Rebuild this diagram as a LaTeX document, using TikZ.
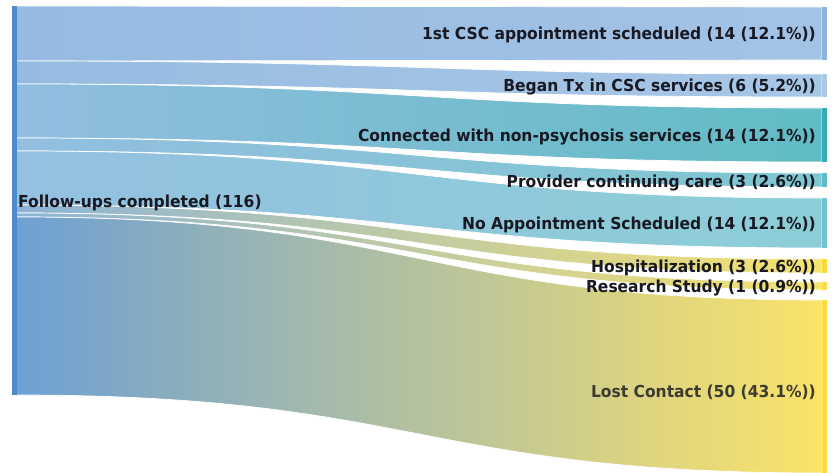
\documentclass[tikz,border=0pt]{standalone}
\usepackage{fontspec}
\newfontfamily\labfont{DejaVu Sans}[FakeStretch=0.94]
\definecolor{srcbar}{RGB}{79,139,203}
\definecolor{bAL}{RGB}{150,186,225}\definecolor{bAR}{RGB}{163,195,230}
\definecolor{bBL}{RGB}{150,187,225}\definecolor{bBR}{RGB}{168,199,231}
\definecolor{bCL}{RGB}{146,189,224}\definecolor{bCR}{RGB}{96,188,196}
\definecolor{bDL}{RGB}{147,190,224}\definecolor{bDR}{RGB}{125,199,208}
\definecolor{bEL}{RGB}{148,192,225}\definecolor{bER}{RGB}{140,206,215}
\definecolor{bFL}{RGB}{140,180,215}\definecolor{bFR}{RGB}{246,226,110}
\definecolor{bGL}{RGB}{140,180,215}\definecolor{bGR}{RGB}{246,226,110}
\definecolor{bHL}{RGB}{110,160,212}\definecolor{bHR}{RGB}{251,227,104}
\definecolor{tA}{RGB}{140,178,222}
\definecolor{tB}{RGB}{170,200,232}
\definecolor{tC}{RGB}{52,172,178}
\definecolor{tD}{RGB}{95,188,198}
\definecolor{tE}{RGB}{115,196,206}
\definecolor{tF}{RGB}{249,218,62}
\definecolor{tG}{RGB}{249,220,75}
\definecolor{tH}{RGB}{252,220,66}
\definecolor{labcol}{RGB}{25,25,35}
\definecolor{labgray}{RGB}{60,60,50}
% band: yl1 yl2 yr1 yr2 colL colR
\newcommand{\sankeyband}[6]{%
  \shade[left color=#5,right color=#6,draw=white,line width=0.7pt]
    (16,#1) .. controls (419,#1) and (419,#3) .. (822,#3)
    -- (822,#4) .. controls (419,#4) and (419,#2) .. (16,#2) -- cycle;}
\begin{document}
\begin{tikzpicture}[x=1pt,y=-1pt,
  lab/.style={anchor=east,inner sep=0pt,text=labcol,font=\labfont\bfseries\fontsize{16.5}{19}\selectfont},
  barnode/.style={inner sep=0pt,outer sep=0pt,minimum width=5pt,anchor=north west}]
\useasboundingbox (0,0) rectangle (833,473);
\fill[white] (0,0) rectangle (833,473);
% bands
\sankeyband{6}{61}{7}{60}{bAL}{bAR}
\sankeyband{61}{84}{74}{97}{bBL}{bBR}
\sankeyband{84}{138}{108}{162}{bCL}{bCR}
\sankeyband{138}{151}{173}{187}{bDL}{bDR}
\sankeyband{151}{205}{198}{248}{bEL}{bER}
\sankeyband{205}{213}{259}{273}{bFL}{bFR}
\sankeyband{213}{217}{282}{290}{bGL}{bGR}
\sankeyband{217}{395}{300}{473}{bHL}{bHR}
% node bars
\node[barnode,fill=srcbar,minimum width=4.5pt,minimum height=389pt] (src) at (12,6) {};
\node[barnode,fill=tA,minimum height=53pt] (tA) at (822,7) {};
\node[barnode,fill=tB,minimum height=23pt] (tB) at (822,74) {};
\node[barnode,fill=tC,minimum height=54pt] (tC) at (822,108) {};
\node[barnode,fill=tD,minimum height=14pt] (tD) at (822,173) {};
\node[barnode,fill=tE,minimum height=50pt] (tE) at (822,198) {};
\node[barnode,fill=tF,minimum height=14pt] (tF) at (822,259) {};
\node[barnode,fill=tG,minimum height=8pt] (tG) at (822,282) {};
\node[barnode,fill=tH,minimum height=173pt] (tH) at (822,300) {};
% labels
\node[lab,anchor=west] (lsrc) at (18,202.5) {Follow-ups completed (116)};
\node[lab] (lA) at (816,35) {1st CSC appointment scheduled (14 (12.1\%))};
\node[lab] (lB) at (816,87) {Began Tx in CSC services (6 (5.2\%))};
\node[lab] (lC) at (816,137) {Connected with non-psychosis services (14 (12.1\%))};
\node[lab] (lD) at (816,183) {Provider continuing care (3 (2.6\%))};
\node[lab] (lE) at (816,225) {No Appointment Scheduled (14 (12.1\%))};
\node[lab] (lF) at (816,268) {Hospitalization (3 (2.6\%))};
\node[lab] (lG) at (816,288) {Research Study (1 (0.9\%))};
\node[lab,text=labgray] (lH) at (816,392) {Lost Contact (50 (43.1\%))};
\end{tikzpicture}
\end{document}
